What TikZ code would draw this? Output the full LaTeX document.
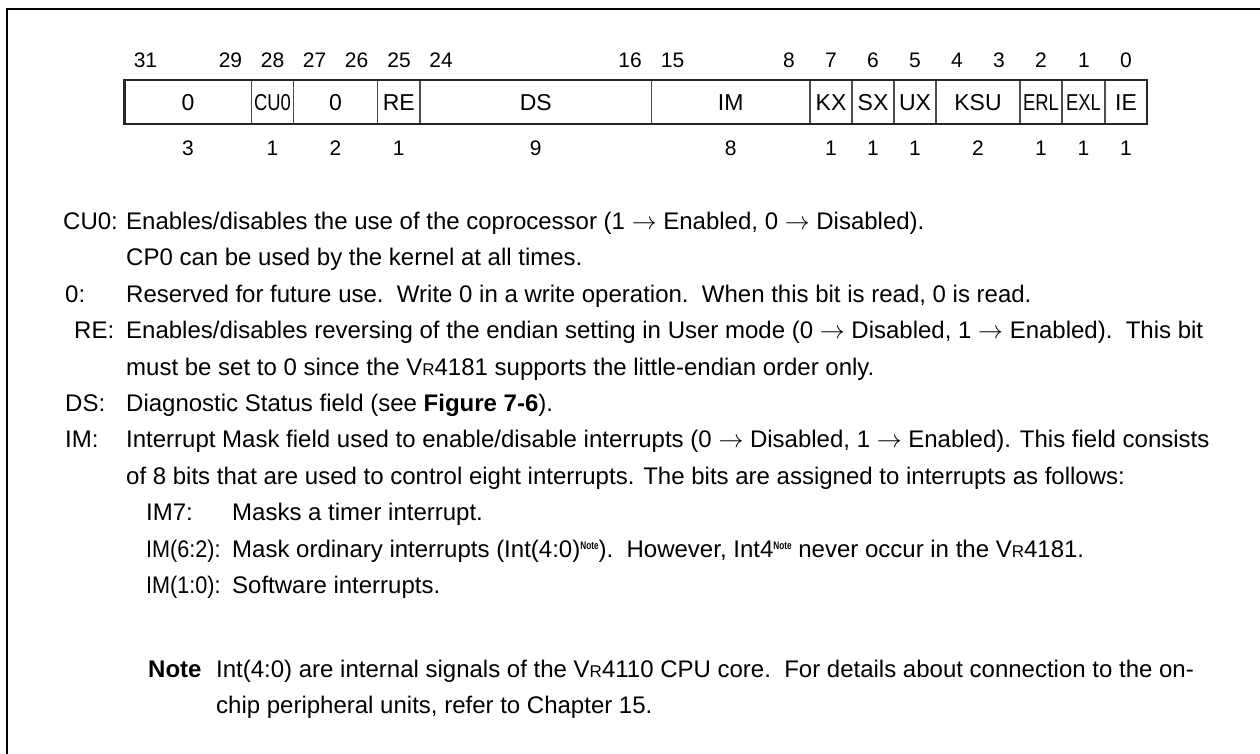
\documentclass[tikz,border=0pt]{standalone}
\usepackage{fontspec}
\usepackage{graphicx}
\setmainfont{Liberation Sans}
\newcommand\myvr{V{\fontsize{17}{17}\selectfont R}}
\newcommand\mynote{\raisebox{8pt}{\fontsize{11}{11}\selectfont\bfseries\scalebox{0.75}[1]{Note}}}
\newcommand\arr{ $\rightarrow$ }
\begin{document}
\begin{tikzpicture}[x=1pt,y=-1pt,
  every node/.style={inner sep=0pt, font=\fontsize{24}{28}\selectfont},
  txt/.style={anchor=base west},
  num/.style={anchor=base, font=\fontsize{21}{26}\selectfont},
  celltxt/.style={anchor=base, font=\fontsize{23}{26}\selectfont},
  cellline/.style={line width=1.2pt, draw=black!70},
  boxline/.style={line width=2.6pt, draw=black!85},
  frameline/.style={line width=2.2pt, draw=black}]
\useasboundingbox (0,0) rectangle (1260,754);
\draw[frameline] (7,800) -- (7,9) -- (1300,9);
% register cells
\foreach \a/\b/\t/\n [count=\i] in {124.5/251.5/0/3, 251.5/293.5/{\scalebox{0.8}[1]{CU0}}/1, 293.5/377.5/0/2, 377.5/420/RE/1, 420/651.5/DS/9, 651.5/810/IM/8, 810/852/KX/1, 852/894/SX/1, 894/936/UX/1, 936/1020/KSU/2, 1020/1062/{\scalebox{0.8}[1]{ERL}}/1, 1062/1105/{\scalebox{0.8}[1]{EXL}}/1, 1105/1147/IE/1}
{
  \draw[cellline] (\a,80) rectangle (\b,124);
  \node[celltxt] (c\i) at ({(\a+\b)/2},111) {\t};
  \node[num] (w\i) at ({(\a+\b)/2},156) {\n};
}
\draw[boxline] (124.5,80) rectangle (1147,124);
% bit numbers
\foreach \x/\t [count=\i] in {145.5/31, 230.5/29, 272.5/28, 314.5/27, 356.5/26, 399/25, 441/24, 630/16, 672.5/15, 789/8, 831/7, 873/6, 915/5, 957/4, 999/3, 1041/2, 1084/1, 1126/0}
  \node[num] (b\i) at (\x,68) {\t};
% descriptions
\node[txt] (l1) at (63,229) {CU0:};
\node[txt] (t1) at (126,229) {Enables/disables the use of the coprocessor (1\arr Enabled, 0\arr Disabled).};
\node[txt] (t1b) at (126,265) {CP0 can be used by the kernel at all times.};
\node[txt] (l2) at (65,302) {0:};
\node[txt] (t2) at (126,302) {Reserved for future use.\ \ Write 0 in a write operation.\ \ When this bit is read, 0 is read.};
\node[txt] (l3) at (74,338) {RE:};
\node[txt] (t3) at (126,338) {Enables/disables reversing of the endian setting in User mode (0\arr Disabled, 1\arr Enabled).\ \ This bit};
\node[txt] (t3b) at (126,375) {must be set to 0 since the \myvr4181 supports the little-endian order only.};
\node[txt] (l4) at (65,411) {DS:};
\node[txt] (t4) at (126,411) {Diagnostic Status field (see \textbf{Figure 7-6}).};
\node[txt] (l5) at (65,447) {IM:};
\node[txt] (t5) at (126,447) {Interrupt Mask field used to enable/disable interrupts (0\arr Disabled, 1\arr Enabled). This field consists};
\node[txt] (t5b) at (126,484) {of 8 bits that are used to control eight interrupts. The bits are assigned to interrupts as follows:};
\node[txt] (l6) at (146,520) {IM7:};
\node[txt] (t6) at (232,520) {Masks a timer interrupt.};
\node[txt] (l7) at (146,557) {\scalebox{0.9}[1]{IM(6:2):}};
\node[txt] (t7) at (232,557) {Mask ordinary interrupts (Int(4:0)\mynote).\ \ However, Int4\mynote\ never occur in the \myvr4181.};
\node[txt] (l8) at (146,593) {\scalebox{0.9}[1]{IM(1:0):}};
\node[txt] (t8) at (232,593) {Software interrupts.};
\node[txt] (l9) at (148,677) {\textbf{Note}};
\node[txt] (t9) at (216,677) {Int(4:0) are internal signals of the \myvr4110 CPU core.\ \ For details about connection to the on-};
\node[txt] (t9b) at (216,713) {chip peripheral units, refer to Chapter 15.};
\end{tikzpicture}
\end{document}
